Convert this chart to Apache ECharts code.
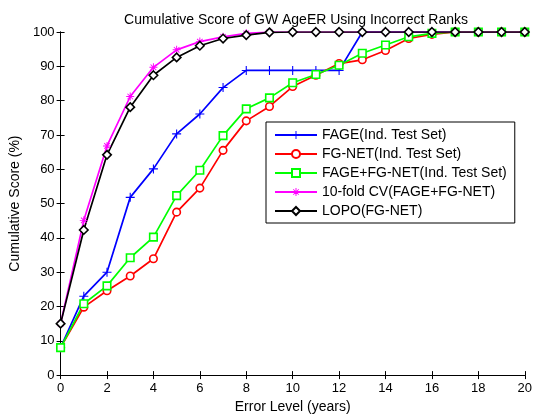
<!DOCTYPE html>
<html>
<head>
<meta charset="utf-8">
<script src="https://cdn.jsdelivr.net/npm/echarts@6/dist/echarts.min.js"></script>
<style>html,body{margin:0;padding:0;background:#fff;}#c{width:535px;height:419px;}</style>
</head>
<body>
<div id="c"></div>
<script>
var errorLevels = [0,1,2,3,4,5,6,7,8,9,10,11,12,13,14,15,16,17,18,19,20];
var seriesNames = ['FAGE(Ind. Test Set)','FG-NET(Ind. Test Set)','FAGE+FG-NET(Ind. Test Set)','10-fold CV(FAGE+FG-NET)','LOPO(FG-NET)'];
var fage     = [8, 23, 30, 51.8, 60.1, 70.3, 76.1, 83.8, 88.8, 88.8, 88.8, 88.8, 88.8, 100, 100, 100, 100, 100, 100, 100, 100];
var fgnet    = [8, 19.8, 24.6, 28.9, 33.9, 47.5, 54.5, 65.5, 74.1, 78.3, 84.1, 87.4, 90.8, 91.9, 94.6, 98.1, 99.3, 100, 100, 100, 100];
var combined = [8, 20.8, 26.0, 34.2, 40.2, 52.3, 59.7, 69.8, 77.6, 80.8, 85.2, 87.6, 90.3, 93.8, 96.2, 98.6, 99.6, 100, 100, 100, 100];
var cv10     = [15, 45.1, 66.8, 81.2, 89.7, 94.8, 97.2, 98.6, 99.6, 100, 100, 100, 100, 100, 100, 100, 100, 100, 100, 100, 100];
var lopo     = [15, 42.3, 64.2, 78.1, 87.4, 92.6, 96.0, 98.1, 99.1, 99.9, 100, 100, 100, 100, 100, 100, 100, 100, 100, 100, 100];
var xTicks = {min: 0, max: 20, interval: 2};
var yTicks = {min: 0, max: 100, interval: 10};

var plusPath = 'path://M4.4,0H5.6V4.4H10V5.6H5.6V10H4.4V5.6H0V4.4H4.4Z';
var starPath = 'path://M4.4,0H5.6V4.4H10V5.6H5.6V10H4.4V5.6H0V4.4H4.4Z M1.1,1.9L1.9,1.1L8.9,8.1L8.1,8.9Z M8.1,1.1L8.9,1.9L1.9,8.9L1.1,8.1Z';

function pairs(arr){ return arr.map(function(v,i){ return [errorLevels[i], v]; }); }

var font = 'Liberation Sans, Arial, sans-serif';
function mk(name, data, color, symbol, size, hollow){
  return {
    name: name, type: 'line', data: pairs(data),
    symbol: symbol, symbolSize: size,
    lineStyle: {color: color, width: 1.7},
    itemStyle: hollow ? {color: '#ffffff', borderColor: color, borderWidth: 1.6} : {color: color, borderColor: color, borderWidth: 0},
    color: color,
    animation: false
  };
}

var chart = echarts.init(document.getElementById('c'));
chart.setOption({
  backgroundColor: '#fff',
  animation: false,
  title: {
    text: 'Cumulative Score of GW AgeER Using Incorrect Ranks',
    left: 291, top: 8, textAlign: 'center',
    textStyle: {fontFamily: font, fontSize: 14, fontWeight: 'normal', color: '#000'}
  },
  legend: {
    orient: 'vertical', left: 266, top: 122,
    padding: [6, 8, 5, 8], itemWidth: 42, itemHeight: 10, itemGap: 5,
    backgroundColor: '#fff', borderColor: '#000', borderWidth: 1,
    textStyle: {fontFamily: font, fontSize: 14, color: '#000'},
    data: seriesNames
  },
  grid: {left: 58.5, right: 7, top: 32, bottom: 37, containLabel: false},
  xAxis: [{
    type: 'value', min: xTicks.min, max: xTicks.max, interval: xTicks.interval,
    name: 'Error Level (years)', nameLocation: 'middle', nameGap: 24,
    nameTextStyle: {fontFamily: font, fontSize: 14, color: '#000'},
    axisLine: {lineStyle: {color: '#000', width: 1}},
    axisTick: {inside: true, length: 4, lineStyle: {color: '#000'}},
    axisLabel: {fontFamily: font, fontSize: 13, color: '#000', margin: 7},
    splitLine: {show: false}
  },{
    type: 'value', position: 'top', min: xTicks.min, max: xTicks.max, interval: xTicks.interval,
    axisLine: {lineStyle: {color: '#000', width: 1}},
    axisTick: {inside: true, length: 4, lineStyle: {color: '#000'}},
    axisLabel: {show: false}, splitLine: {show: false}
  }],
  yAxis: [{
    type: 'value', min: yTicks.min, max: yTicks.max, interval: yTicks.interval,
    name: 'Cumulative Score (%)', nameLocation: 'middle', nameGap: 36,
    nameTextStyle: {fontFamily: font, fontSize: 14, color: '#000'},
    axisLine: {show: true, lineStyle: {color: '#000', width: 1}},
    axisTick: {show: true, inside: true, length: 4, lineStyle: {color: '#000'}},
    axisLabel: {fontFamily: font, fontSize: 13, color: '#000', margin: 6},
    splitLine: {show: false}
  },{
    type: 'value', position: 'right', min: yTicks.min, max: yTicks.max, interval: yTicks.interval,
    axisLine: {show: true, lineStyle: {color: '#000', width: 1}},
    axisTick: {show: true, inside: true, length: 4, lineStyle: {color: '#000'}},
    axisLabel: {show: false}, splitLine: {show: false}
  }],
  series: [
    mk(seriesNames[0], fage, '#0000ff', plusPath, 9, false),
    mk(seriesNames[1], fgnet, '#ff0000', 'circle', 7.5, true),
    mk(seriesNames[2], combined, '#00ff00', 'rect', 7.5, true),
    mk(seriesNames[3], cv10, '#ff00ff', starPath, 8, false),
    mk(seriesNames[4], lopo, '#000000', 'diamond', 8.5, true)
  ]
});
</script>
</body>
</html>
